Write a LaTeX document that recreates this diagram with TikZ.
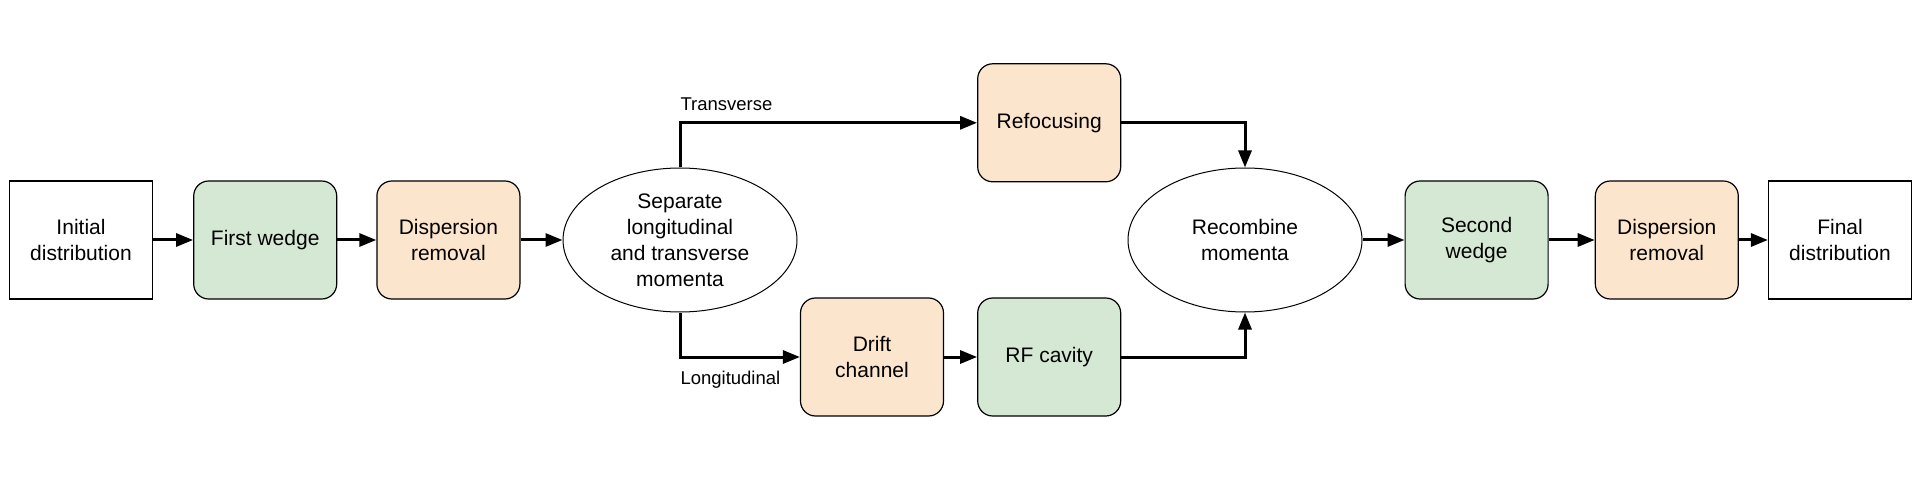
\documentclass[tikz,border=0pt]{standalone}
\usepackage{fontspec}
\setmainfont{Liberation Sans}
\usetikzlibrary{positioning,arrows.meta,shapes.geometric}
\definecolor{wedgegreen}{HTML}{D5E8D4}
\definecolor{disporange}{HTML}{FCE5CD}

\begin{document}
\begin{tikzpicture}[x=1pt, y=1pt,
  every node/.style={font=\fontsize{21}{26}\selectfont},
  block/.style={draw, rectangle, line width=1.2pt, minimum width=143pt, minimum height=118pt, inner sep=2pt, align=center},
  stage/.style={block, rounded corners=15pt},
  split/.style={draw, ellipse, line width=1pt, minimum width=234pt, minimum height=144pt, inner sep=0pt, align=center},
  flow/.style={-{Triangle[length=17pt, width=13pt]}, line width=3pt},
  lab/.style={font=\fontsize{18.5}{22}\selectfont, inner sep=0pt}]
\useasboundingbox (0,0) rectangle (1920,480);

\node[block] (init) at (81,240) {Initial\\distribution};
\node[stage, fill=wedgegreen, right=40pt of init] (wedge1) {First wedge};
\node[stage, fill=disporange, right=39pt of wedge1] (disp1) {Dispersion\\removal};
\node[split, right=42pt of disp1] (sep) {Separate\\longitudinal\\and transverse\\momenta};
\node[stage, fill=disporange] (drift) at (872,123) {Drift\\channel};
\node[stage, fill=wedgegreen, right=33pt of drift] (rf) {RF cavity};
\node[stage, fill=disporange, above=115pt of rf] (refoc) {Refocusing};
\node[split] (recomb) at (1245,240) {Recombine\\momenta};
\node[stage, fill=wedgegreen, right=42pt of recomb] (wedge2) {Second\\wedge};
\node[stage, fill=disporange, right=46pt of wedge2] (disp2) {Dispersion\\removal};
\node[block, right=29pt of disp2] (final) {Final\\distribution};

\draw[flow] (init) -- (wedge1);
\draw[flow] (wedge1) -- (disp1);
\draw[flow] (disp1) -- (sep);
\draw[flow] (sep.north) |- node[lab, pos=0.5, anchor=base west, xshift=-1pt, yshift=12.5pt] {Transverse} (refoc.west);
\draw[flow] (sep.south) |- node[lab, pos=0.5, anchor=base west, xshift=-1pt, yshift=-27pt] {Longitudinal} (drift.west);
\draw[flow] (drift) -- (rf);
\draw[flow] (refoc.east) -| (recomb.north);
\draw[flow] (rf.east) -| (recomb.south);
\draw[flow] (recomb) -- (wedge2);
\draw[flow] (wedge2) -- (disp2);
\draw[flow] (disp2) -- (final);
\end{tikzpicture}
\end{document}
